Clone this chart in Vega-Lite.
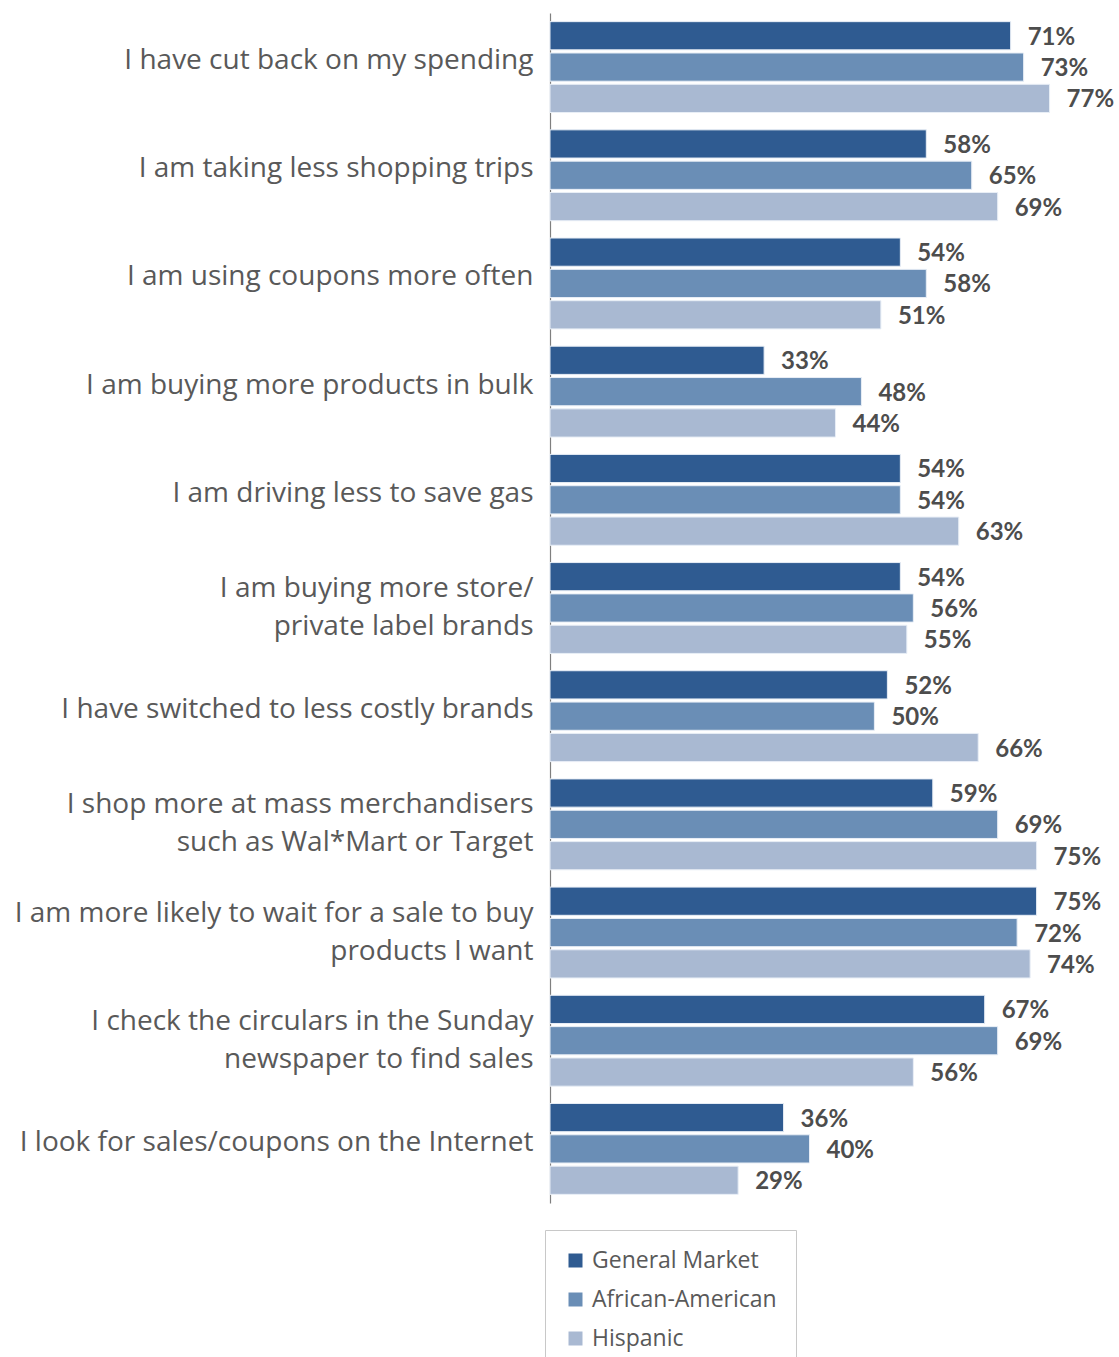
{
  "$schema": "https://vega.github.io/schema/vega-lite/v6.json",
  "autosize": {"type": "none"},
  "width": 569,
  "height": 1190,
  "padding": {"left": 550, "top": 13, "right": 0, "bottom": 154},
  "background": "white",
  "config": {"view": {"stroke": null}, "font": "Open Sans"},
  "data": {"values": [
    {"cat": "I have cut back on my spending", "series": "General Market", "v": 0.71},
    {"cat": "I have cut back on my spending", "series": "African-American", "v": 0.73},
    {"cat": "I have cut back on my spending", "series": "Hispanic", "v": 0.77},
    {"cat": "I am taking less shopping trips", "series": "General Market", "v": 0.58},
    {"cat": "I am taking less shopping trips", "series": "African-American", "v": 0.65},
    {"cat": "I am taking less shopping trips", "series": "Hispanic", "v": 0.69},
    {"cat": "I am using coupons more often", "series": "General Market", "v": 0.54},
    {"cat": "I am using coupons more often", "series": "African-American", "v": 0.58},
    {"cat": "I am using coupons more often", "series": "Hispanic", "v": 0.51},
    {"cat": "I  am buying more products in bulk", "series": "General Market", "v": 0.33},
    {"cat": "I  am buying more products in bulk", "series": "African-American", "v": 0.48},
    {"cat": "I  am buying more products in bulk", "series": "Hispanic", "v": 0.44},
    {"cat": "I am driving less to save gas", "series": "General Market", "v": 0.54},
    {"cat": "I am driving less to save gas", "series": "African-American", "v": 0.54},
    {"cat": "I am driving less to save gas", "series": "Hispanic", "v": 0.63},
    {"cat": "I am buying more store/|private label brands", "series": "General Market", "v": 0.54},
    {"cat": "I am buying more store/|private label brands", "series": "African-American", "v": 0.56},
    {"cat": "I am buying more store/|private label brands", "series": "Hispanic", "v": 0.55},
    {"cat": "I have switched to less costly brands", "series": "General Market", "v": 0.52},
    {"cat": "I have switched to less costly brands", "series": "African-American", "v": 0.50},
    {"cat": "I have switched to less costly brands", "series": "Hispanic", "v": 0.66},
    {"cat": "I shop more at mass merchandisers|such as Wal*Mart or Target", "series": "General Market", "v": 0.59},
    {"cat": "I shop more at mass merchandisers|such as Wal*Mart or Target", "series": "African-American", "v": 0.69},
    {"cat": "I shop more at mass merchandisers|such as Wal*Mart or Target", "series": "Hispanic", "v": 0.75},
    {"cat": "I am more likely to wait for a sale to buy|products I want", "series": "General Market", "v": 0.75},
    {"cat": "I am more likely to wait for a sale to buy|products I want", "series": "African-American", "v": 0.72},
    {"cat": "I am more likely to wait for a sale to buy|products I want", "series": "Hispanic", "v": 0.74},
    {"cat": "I check the circulars in the Sunday|newspaper to find sales", "series": "General Market", "v": 0.67},
    {"cat": "I check the circulars in the Sunday|newspaper to find sales", "series": "African-American", "v": 0.69},
    {"cat": "I check the circulars in the Sunday|newspaper to find sales", "series": "Hispanic", "v": 0.56},
    {"cat": "I look for sales/coupons on the Internet", "series": "General Market", "v": 0.36},
    {"cat": "I look for sales/coupons on the Internet", "series": "African-American", "v": 0.40},
    {"cat": "I look for sales/coupons on the Internet", "series": "Hispanic", "v": 0.29}
  ]},
  "encoding": {
    "y": {
      "field": "cat", "type": "nominal", "sort": null,
      "scale": {"paddingInner": 0.16, "paddingOuter": 0.08},
      "axis": {
        "title": null, "ticks": false, "domain": true, "domainColor": "#7f7f7f", "domainWidth": 1.2,
        "labelExpr": "split(datum.label, '|')",
        "labelFontSize": 28, "labelColor": "#595959", "labelPadding": 17,
        "labelLineHeight": 38, "labelLimit": 600, "labelFont": "Open Sans",
        "labelOffset": {"condition": {"test": "indexof(datum.value, '|') >= 0", "value": -19}, "value": -6}
      }
    },
    "yOffset": {
      "field": "series", "type": "nominal",
      "scale": {"domain": ["General Market", "African-American", "Hispanic"], "paddingInner": 0.1}
    },
    "x": {
      "field": "v", "type": "quantitative",
      "scale": {"domain": [0, 0.877], "nice": false, "zero": true},
      "axis": null
    }
  },
  "layer": [
    {
      "mark": {"type": "bar", "stroke": "#e8eef6", "strokeWidth": 1},
      "encoding": {
        "color": {
          "field": "series", "type": "nominal",
          "scale": {"domain": ["General Market", "African-American", "Hispanic"], "range": ["#2F5B91", "#6A8EB6", "#A9B9D2"]},
          "legend": {
            "title": null, "orient": "none", "legendX": -5, "legendY": 1217,
            "symbolType": "square", "symbolSize": 196, "symbolStrokeWidth": 0,
            "labelFontSize": 23, "labelColor": "#595959", "labelFont": "Open Sans", "labelLimit": 400,
            "rowPadding": 15, "padding": 19, "strokeColor": "#c8c8c8",
            "labelOffset": 5
          }
        }
      }
    },
    {
      "mark": {"type": "text", "align": "left", "baseline": "middle", "dx": 17, "dy": 2, "fontSize": 24, "fontWeight": "bold", "color": "#4d4d4d", "font": "Lato"},
      "encoding": {
        "text": {"field": "v", "type": "quantitative", "format": ".0%"}
      }
    }
  ]
}
